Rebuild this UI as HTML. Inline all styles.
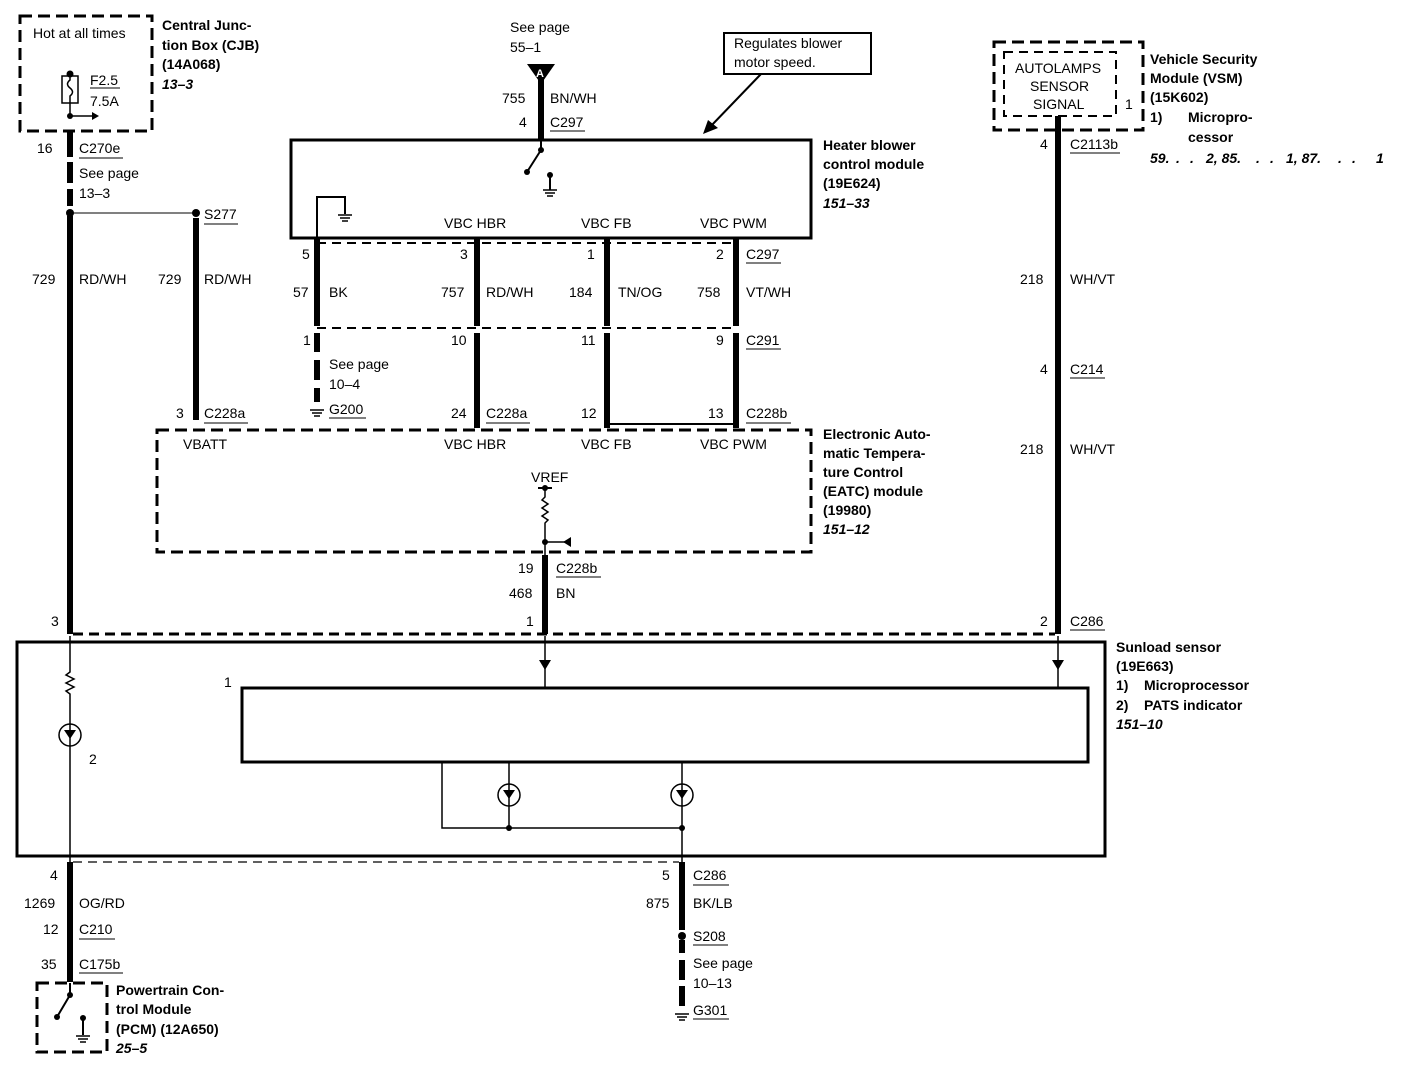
<!DOCTYPE html>
<html><head><meta charset="utf-8"><style>
html,body{margin:0;padding:0;background:#fff}
svg{display:block}
text{font-family:"Liberation Sans",sans-serif;font-size:14px;fill:#000}
.b{font-weight:bold}
.i{font-weight:bold;font-style:italic}
</style></head><body>
<svg width="1408" height="1068" viewBox="0 0 1408 1068" xmlns="http://www.w3.org/2000/svg">
<g fill="none" stroke="#000">
<rect x="20" y="16" width="132" height="115" stroke-width="3" stroke-dasharray="12,6"/>
<rect x="62" y="76" width="16" height="27" stroke-width="1.5"/>
<path d="M70 72 V80 q-5 4 0 8 q5 4 0 8 V118" stroke-width="1.5"/>
<line x1="70" y1="116" x2="92" y2="116" stroke-width="1.5"/>
<line x1="70" y1="131" x2="70" y2="157" stroke-width="6"/>
<line x1="70" y1="162" x2="70" y2="183" stroke-width="6"/>
<line x1="70" y1="189" x2="70" y2="206" stroke-width="6"/>
<line x1="70" y1="216" x2="70" y2="634" stroke-width="6"/>
<line x1="70" y1="213" x2="196" y2="213" stroke-width="1"/>
<line x1="196" y1="218" x2="196" y2="420" stroke-width="6"/>
<rect x="291" y="140" width="520" height="98" stroke-width="3"/>
<line x1="541" y1="72" x2="541" y2="140" stroke-width="6"/>
<path d="M541 140 V150 L527 172" stroke-width="2"/>
<path d="M550 175 V190" stroke-width="2"/>
<path d="M317 240 V197 H345 V214" stroke-width="2"/>
<rect x="724" y="33" width="147" height="41" stroke-width="2"/>
<line x1="761" y1="74" x2="710" y2="127" stroke-width="2"/>
<line x1="317" y1="243" x2="736" y2="243" stroke-width="2" stroke-dasharray="9,6"/>
<line x1="317" y1="328" x2="736" y2="328" stroke-width="2" stroke-dasharray="9,6"/>
<line x1="317" y1="238" x2="317" y2="326" stroke-width="6"/>
<line x1="477" y1="238" x2="477" y2="326" stroke-width="6"/>
<line x1="607" y1="238" x2="607" y2="326" stroke-width="6"/>
<line x1="736" y1="238" x2="736" y2="326" stroke-width="6"/>
<line x1="317" y1="333" x2="317" y2="352" stroke-width="6"/>
<line x1="317" y1="360" x2="317" y2="380" stroke-width="6"/>
<line x1="317" y1="388" x2="317" y2="402" stroke-width="6"/>
<line x1="477" y1="333" x2="477" y2="428" stroke-width="6"/>
<line x1="607" y1="333" x2="607" y2="428" stroke-width="6"/>
<line x1="736" y1="333" x2="736" y2="428" stroke-width="6"/>
<line x1="607" y1="424" x2="736" y2="424" stroke-width="2"/>
<rect x="157" y="430" width="654" height="122" stroke-width="3" stroke-dasharray="12,6"/>
<line x1="538" y1="488" x2="552" y2="488" stroke-width="2"/>
<path d="M545 488 V497 l-3 3 l6 4 l-6 4 l6 4 l-6 4 l6 4 l-3 3 V555" stroke-width="1.5"/>
<line x1="545" y1="542" x2="565" y2="542" stroke-width="1.5"/>
<line x1="545" y1="555" x2="545" y2="634" stroke-width="6"/>
<rect x="994" y="42" width="149" height="88" stroke-width="3" stroke-dasharray="12,6"/>
<rect x="1004" y="52" width="112" height="64" stroke-width="2" stroke-dasharray="9,6"/>
<line x1="1058" y1="116" x2="1058" y2="634" stroke-width="6"/>
<line x1="73" y1="634" x2="1055" y2="634" stroke-width="3" stroke-dasharray="10,6"/>
<rect x="17" y="642" width="1088" height="214" stroke-width="3"/>
<rect x="242" y="688" width="846" height="74" stroke-width="3"/>
<line x1="545" y1="636" x2="545" y2="688" stroke-width="1.5"/>
<line x1="1058" y1="636" x2="1058" y2="688" stroke-width="1.5"/>
<path d="M70 636 V672 l-4 3 l8 4 l-8 4 l8 4 l-8 4 l4 3 V862" stroke-width="1.5"/>
<circle cx="70" cy="735" r="11" stroke-width="1.5"/>
<path d="M442 762 V828 H682" stroke-width="1.5"/>
<line x1="509" y1="762" x2="509" y2="828" stroke-width="1.5"/>
<line x1="682" y1="762" x2="682" y2="862" stroke-width="1.5"/>
<circle cx="509" cy="795" r="11" stroke-width="1.5"/>
<circle cx="682" cy="795" r="11" stroke-width="1.5"/>
<line x1="73" y1="862" x2="679" y2="862" stroke-width="1.2" stroke-dasharray="9,6"/>
<line x1="70" y1="862" x2="70" y2="982" stroke-width="6"/>
<line x1="682" y1="862" x2="682" y2="930" stroke-width="6"/>
<line x1="682" y1="940" x2="682" y2="953" stroke-width="6"/>
<line x1="682" y1="960" x2="682" y2="980" stroke-width="6"/>
<line x1="682" y1="986" x2="682" y2="1006" stroke-width="6"/>
<rect x="37" y="983" width="70" height="69" stroke-width="3" stroke-dasharray="12,6"/>
<path d="M70 983 V995 L57 1017" stroke-width="2"/>
<line x1="83" y1="1018" x2="83" y2="1035" stroke-width="2"/>
<g stroke-width="1">
<line x1="90" y1="88" x2="120" y2="88"/>
<line x1="79" y1="158" x2="123" y2="158"/>
<line x1="204" y1="224" x2="238" y2="224"/>
<line x1="204" y1="423" x2="248" y2="423"/>
<line x1="550" y1="131" x2="585" y2="131"/>
<line x1="746" y1="263" x2="781" y2="263"/>
<line x1="746" y1="349" x2="781" y2="349"/>
<line x1="329" y1="418" x2="366" y2="418"/>
<line x1="486" y1="423" x2="530" y2="423"/>
<line x1="746" y1="423" x2="791" y2="423"/>
<line x1="556" y1="577" x2="601" y2="577"/>
<line x1="1070" y1="153" x2="1120" y2="153"/>
<line x1="1070" y1="378" x2="1105" y2="378"/>
<line x1="1070" y1="630" x2="1105" y2="630"/>
<line x1="693" y1="885" x2="729" y2="885"/>
<line x1="79" y1="939" x2="115" y2="939"/>
<line x1="79" y1="973" x2="123" y2="973"/>
<line x1="693" y1="945" x2="728" y2="945"/>
<line x1="693" y1="1019" x2="729" y2="1019"/>
</g>
</g>
<g fill="#000">
<circle cx="70" cy="74" r="3.5"/><circle cx="70" cy="116" r="3"/>
<polygon points="92,112 99,116 92,120"/>
<circle cx="70" cy="213" r="4"/><circle cx="196" cy="213" r="4"/>
<polygon points="527,64 555,64 541,84"/>
<circle cx="541" cy="150" r="3"/><circle cx="527" cy="172" r="3"/><circle cx="550" cy="175" r="3"/>
<polygon points="703,134 708,120 718,128"/>
<circle cx="545" cy="488" r="3"/><circle cx="545" cy="542" r="3"/>
<polygon points="563,542 571,537 571,547"/>
<polygon points="539,660 551,660 545,670"/>
<polygon points="1052,660 1064,660 1058,670"/>
<polygon points="64,730 76,730 70,739"/>
<polygon points="503,790 515,790 509,799"/>
<polygon points="676,790 688,790 682,799"/>
<circle cx="509" cy="828" r="3"/><circle cx="682" cy="828" r="3"/>
<circle cx="682" cy="936" r="4"/>
<circle cx="70" cy="995" r="3"/><circle cx="57" cy="1017" r="3"/><circle cx="83" cy="1018" r="3"/>
</g>
<g stroke="#000" stroke-width="1.5">
<line x1="543" y1="190" x2="557" y2="190"/><line x1="545" y1="193" x2="555" y2="193"/><line x1="547" y1="196" x2="553" y2="196"/>
<line x1="338" y1="215" x2="352" y2="215"/><line x1="340" y1="218" x2="350" y2="218"/><line x1="342" y1="221" x2="348" y2="221"/>
<line x1="310" y1="410" x2="324" y2="410"/><line x1="312" y1="413" x2="322" y2="413"/><line x1="314" y1="416" x2="320" y2="416"/>
<line x1="675" y1="1014" x2="689" y2="1014"/><line x1="677" y1="1017" x2="687" y2="1017"/><line x1="679" y1="1020" x2="685" y2="1020"/>
<line x1="76" y1="1036" x2="90" y2="1036"/><line x1="78" y1="1039" x2="88" y2="1039"/><line x1="80" y1="1042" x2="86" y2="1042"/>
</g>
<text x="536" y="77" style="fill:#fff;font-size:11px;font-weight:bold">A</text>
<text x="33" y="38">Hot at all times</text>
<text x="90" y="85">F2.5</text><text x="90" y="106">7.5A</text>
<text x="162" y="30" class="b">Central Junc-</text>
<text x="162" y="50" class="b">tion Box (CJB)</text>
<text x="162" y="69" class="b">(14A068)</text>
<text x="162" y="89" class="i">13–3</text>
<text x="37" y="153">16</text><text x="79" y="153">C270e</text>
<text x="79" y="178">See page</text><text x="79" y="198">13–3</text>
<text x="204" y="219">S277</text>
<text x="32" y="284">729</text><text x="79" y="284">RD/WH</text>
<text x="158" y="284">729</text><text x="204" y="284">RD/WH</text>
<text x="176" y="418">3</text><text x="204" y="418">C228a</text>
<text x="510" y="32">See page</text><text x="510" y="52">55–1</text>
<text x="502" y="103">755</text><text x="550" y="103">BN/WH</text>
<text x="519" y="127">4</text><text x="550" y="127">C297</text>
<text x="734" y="48">Regulates blower</text><text x="734" y="67">motor speed.</text>
<text x="823" y="150" class="b">Heater blower</text>
<text x="823" y="169" class="b">control module</text>
<text x="823" y="188" class="b">(19E624)</text>
<text x="823" y="208" class="i">151–33</text>
<text x="444" y="228">VBC HBR</text><text x="581" y="228">VBC FB</text><text x="700" y="228">VBC PWM</text>
<text x="302" y="259">5</text><text x="460" y="259">3</text><text x="587" y="259">1</text><text x="716" y="259">2</text><text x="746" y="259">C297</text>
<text x="293" y="297">57</text><text x="329" y="297">BK</text>
<text x="441" y="297">757</text><text x="486" y="297">RD/WH</text>
<text x="569" y="297">184</text><text x="618" y="297">TN/OG</text>
<text x="697" y="297">758</text><text x="746" y="297">VT/WH</text>
<text x="303" y="345">1</text><text x="451" y="345">10</text><text x="581" y="345">11</text><text x="716" y="345">9</text><text x="746" y="345">C291</text>
<text x="329" y="369">See page</text><text x="329" y="389">10–4</text><text x="329" y="414">G200</text>
<text x="451" y="418">24</text><text x="486" y="418">C228a</text>
<text x="581" y="418">12</text><text x="708" y="418">13</text><text x="746" y="418">C228b</text>
<text x="183" y="449">VBATT</text><text x="444" y="449">VBC HBR</text><text x="581" y="449">VBC FB</text><text x="700" y="449">VBC PWM</text>
<text x="531" y="482">VREF</text>
<text x="823" y="439" class="b">Electronic Auto-</text>
<text x="823" y="458" class="b">matic Tempera-</text>
<text x="823" y="477" class="b">ture Control</text>
<text x="823" y="496" class="b">(EATC) module</text>
<text x="823" y="515" class="b">(19980)</text>
<text x="823" y="534" class="i">151–12</text>
<text x="518" y="573">19</text><text x="556" y="573">C228b</text>
<text x="509" y="598">468</text><text x="556" y="598">BN</text>
<text x="526" y="626">1</text><text x="51" y="626">3</text>
<text x="1015" y="73">AUTOLAMPS</text>
<text x="1030" y="91">SENSOR</text>
<text x="1033" y="109">SIGNAL</text>
<text x="1125" y="109">1</text>
<text x="1150" y="64" class="b">Vehicle Security</text>
<text x="1150" y="83" class="b">Module (VSM)</text>
<text x="1150" y="102" class="b">(15K602)</text>
<text x="1150" y="122" class="b">1)</text><text x="1188" y="122" class="b">Micropro-</text>
<text x="1188" y="142" class="b">cessor</text>
<text x="1150" y="163" class="i">59.</text>
<text x="1176" y="163" class="i">.</text><text x="1190" y="163" class="i">.</text>
<text x="1206" y="163" class="i">2, 85.</text>
<text x="1256" y="163" class="i">.</text><text x="1270" y="163" class="i">.</text>
<text x="1286" y="163" class="i">1, 87.</text>
<text x="1338" y="163" class="i">.</text><text x="1352" y="163" class="i">.</text>
<text x="1376" y="163" class="i">1</text>
<text x="1040" y="149">4</text><text x="1070" y="149">C2113b</text>
<text x="1020" y="284">218</text><text x="1070" y="284">WH/VT</text>
<text x="1040" y="374">4</text><text x="1070" y="374">C214</text>
<text x="1020" y="454">218</text><text x="1070" y="454">WH/VT</text>
<text x="1040" y="626">2</text><text x="1070" y="626">C286</text>
<text x="1116" y="652" class="b">Sunload sensor</text>
<text x="1116" y="671" class="b">(19E663)</text>
<text x="1116" y="690" class="b">1)</text><text x="1144" y="690" class="b">Microprocessor</text>
<text x="1116" y="710" class="b">2)</text><text x="1144" y="710" class="b">PATS indicator</text>
<text x="1116" y="729" class="i">151–10</text>
<text x="224" y="687">1</text><text x="89" y="764">2</text>
<text x="50" y="880">4</text>
<text x="24" y="908">1269</text><text x="79" y="908">OG/RD</text>
<text x="43" y="934">12</text><text x="79" y="934">C210</text>
<text x="41" y="969">35</text><text x="79" y="969">C175b</text>
<text x="116" y="995" class="b">Powertrain Con-</text>
<text x="116" y="1014" class="b">trol Module</text>
<text x="116" y="1034" class="b">(PCM) (12A650)</text>
<text x="116" y="1053" class="i">25–5</text>
<text x="662" y="880">5</text><text x="693" y="880">C286</text>
<text x="646" y="908">875</text><text x="693" y="908">BK/LB</text>
<text x="693" y="941">S208</text>
<text x="693" y="968">See page</text><text x="693" y="988">10–13</text>
<text x="693" y="1015">G301</text>
</svg>
</body></html>
